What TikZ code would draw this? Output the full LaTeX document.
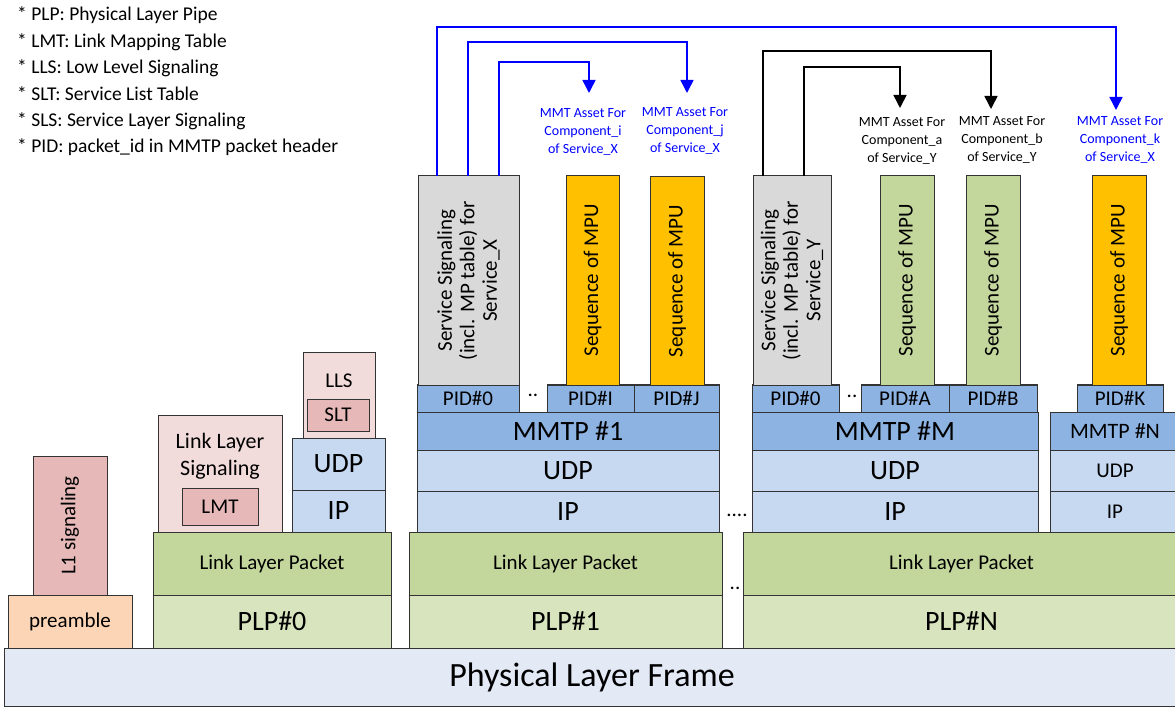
\documentclass[tikz,border=0pt]{standalone}
\usepackage{fontspec}
\setmainfont{Carlito}
\usetikzlibrary{arrows.meta}
\definecolor{frameC}{HTML}{E3EAF6}
\definecolor{preC}{HTML}{FBD5B5}
\definecolor{roseC}{HTML}{E6B9B8}
\definecolor{pinkC}{HTML}{F2DCDB}
\definecolor{llpC}{HTML}{C3D69B}
\definecolor{plpC}{HTML}{D7E4BD}
\definecolor{lbC}{HTML}{C6D9F1}
\definecolor{mbC}{HTML}{8DB3E2}
\definecolor{greyC}{HTML}{D9D9D9}
\definecolor{orC}{HTML}{FFC000}
\definecolor{arrBlue}{HTML}{0000FF}
\newcommand\bx[7]{\node[box,#6,minimum width={(#4)-(#2)},minimum height={(#5)-(#3)}] (#1) at ({((#2)+(#4))/2},{((#3)+(#5))/2}) {#7};}
\tikzset{
  box/.style={draw=black!80,line width=1pt,inner sep=0pt,outer sep=0pt,align=center},
  fbig/.style={font=\fontsize{28}{33}\selectfont},
  fmid/.style={font=\fontsize{21}{25}\selectfont},
  fsmall/.style={font=\fontsize{21}{25}\selectfont},
  rottxt/.style={rotate=90,align=center,inner sep=0pt,font=\fontsize{21}{22.5}\selectfont},
  asset/.style={align=center,inner sep=0pt,font=\fontsize{14}{18}\selectfont},
  legend/.style={anchor=base west,inner sep=0pt,font=\fontsize{19.5}{24}\selectfont},
  dotsn/.style={inner sep=0pt,font=\fontsize{21}{25}\selectfont},
  arrB/.style={draw=arrBlue,line width=1.6pt,-{Triangle[width=13pt,length=13pt]}},
  arrK/.style={draw=black,line width=1.6pt,-{Triangle[width=13pt,length=13pt]}},
}
\begin{document}
\begin{tikzpicture}[x=1pt,y=-1pt]
\useasboundingbox (0,0) rectangle (1175,708);
% legend
\node[legend] (leg1) at (17,21) {* PLP: Physical Layer Pipe};
\node[legend] (leg2) at (17,47.4) {* LMT: Link Mapping Table};
\node[legend] (leg3) at (17,73.8) {* LLS: Low Level Signaling};
\node[legend] (leg4) at (17,100.2) {* SLT: Service List Table};
\node[legend] (leg5) at (17,126.6) {* SLS: Service Layer Signaling};
\node[legend] (leg6) at (17,153) {* PID: packet\_id in MMTP packet header};
% physical layer frame
\bx{plf}{4}{648}{1180}{706}{fill=frameC,font=\fontsize{34}{40}\selectfont}{Physical Layer Frame}
% preamble / L1
\bx{pre}{8}{595}{132}{648}{fill=preC,fmid}{preamble}
\bx{l1}{33}{456}{107}{595}{fill=roseC}{}
\node[rottxt] (l1t) at (l1.center) {L1 signaling};
% PLP#0 stack
\bx{plp0}{153}{595}{391}{648}{fill=plpC,fbig}{PLP\#0}
\bx{llp0}{153}{532}{391}{595}{fill=llpC,fsmall}{Link Layer Packet}
\bx{lls0}{158}{415}{282}{532}{fill=pinkC}{}
\node[align=center,inner sep=0pt,font=\fontsize{22}{27}\selectfont] (lls0t) at (220,456) {Link Layer\\Signaling};
\bx{lmt}{182}{488}{258}{525}{fill=roseC,fmid}{LMT}
\bx{ip0}{292}{490}{385}{532}{fill=lbC,fbig}{IP}
\bx{udp0}{292}{438}{385}{490}{fill=lbC,fbig}{UDP}
\bx{llsb}{303}{353}{375}{438}{fill=pinkC}{}
\node[fmid,inner sep=0pt] (llst) at (339,381) {LLS};
\bx{slt}{307}{399}{369}{431}{fill=roseC,fmid}{SLT}
% PLP#1 stack
\bx{plp1}{409}{595}{722}{648}{fill=plpC,fbig}{PLP\#1}
\bx{llp1}{409}{532}{722}{595}{fill=llpC,fsmall}{Link Layer Packet}
\bx{ip1}{417}{491}{719}{532}{fill=lbC,fbig}{IP}
\bx{udp1}{417}{450}{719}{491}{fill=lbC,fbig}{UDP}
\bx{mmtp1}{417}{412}{719}{450}{fill=mbC,fbig}{MMTP \#1}
\bx{pidx0}{417}{385}{519}{412}{fill=mbC,fmid}{PID\#0}
\bx{pidi}{547}{385}{634}{412}{fill=mbC,fmid}{PID\#I}
\bx{pidj}{634}{385}{719}{412}{fill=mbC,fmid}{PID\#J}
\bx{ssx}{418}{176}{519}{385}{fill=greyC}{}
\node[rottxt] (ssxt) at (ssx.center) {Service Signaling\\(incl. MP table) for\\Service\_X};
\bx{mpui}{566}{176}{619}{385}{fill=orC}{}
\node[rottxt] (mpuit) at (mpui.center) {Sequence of MPU};
\bx{mpuj}{650}{177}{704}{385}{fill=orC}{}
\node[rottxt] (mpujt) at (mpuj.center) {Sequence of MPU};
\node[dotsn] (d1) at (533,395) {..};
\node[dotsn] (d2) at (737,515) {....};
\node[dotsn] (d3) at (735,588) {..};
% PLP#N stack
\bx{plpn}{743}{595}{1180}{648}{fill=plpC,fbig}{PLP\#N}
\bx{llpn}{743}{532}{1180}{595}{fill=llpC,fsmall}{Link Layer Packet}
\bx{ipm}{752}{491}{1038}{532}{fill=lbC,fbig}{IP}
\bx{udpm}{752}{450}{1038}{491}{fill=lbC,fbig}{UDP}
\bx{mmtpm}{752}{412}{1038}{450}{fill=mbC,fbig}{MMTP \#M}
\bx{pidy0}{752}{385}{839}{412}{fill=mbC,fmid}{PID\#0}
\bx{pida}{861}{385}{949}{412}{fill=mbC,fmid}{PID\#A}
\bx{pidb}{949}{385}{1037}{412}{fill=mbC,fmid}{PID\#B}
\node[dotsn] (d4) at (852,396) {..};
\bx{ssy}{753}{176}{831}{385}{fill=greyC}{}
\node[rottxt] (ssyt) at (ssy.center) {Service Signaling\\(incl. MP table) for\\Service\_Y};
\bx{mpua}{880}{176}{934}{385}{fill=llpC}{}
\node[rottxt] (mpuat) at (mpua.center) {Sequence of MPU};
\bx{mpub}{966}{176}{1020}{385}{fill=llpC}{}
\node[rottxt] (mpubt) at (mpub.center) {Sequence of MPU};
\bx{ipn}{1050}{491}{1180}{532}{fill=lbC,fmid}{IP}
\bx{udpn}{1050}{450}{1180}{491}{fill=lbC,fmid}{UDP}
\bx{mmtpn}{1050}{412}{1180}{450}{fill=mbC,font=\fontsize{22}{26}\selectfont}{MMTP \#N}
\bx{pidk}{1077}{385}{1163}{412}{fill=mbC,fmid}{PID\#K}
\bx{mpuk}{1092}{176}{1146}{385}{fill=orC}{}
\node[rottxt] (mpukt) at (mpuk.center) {Sequence of MPU};
% asset labels
\node[asset,text=arrBlue] (labi) at (583,132) {MMT Asset For\\Component\_i\\of Service\_X};
\node[asset,text=arrBlue] (labj) at (685,131) {MMT Asset For\\Component\_j\\of Service\_X};
\node[asset] (laba) at (902,141) {MMT Asset For\\Component\_a\\of Service\_Y};
\node[asset] (labb) at (1002,140) {MMT Asset For\\Component\_b\\of Service\_Y};
\node[asset,text=arrBlue] (labk) at (1120,140) {MMT Asset For\\Component\_k\\of Service\_X};
% arrow corners and tips
\coordinate (k1) at (1116,27);  \coordinate (t1) at (1116,110);
\coordinate (k2) at (687,42);   \coordinate (t2) at (687,93);
\coordinate (k3) at (589,62);   \coordinate (t3) at (589,93);
\coordinate (k4) at (991,51);   \coordinate (t4) at (991,109);
\coordinate (k5) at (900,67);   \coordinate (t5) at (900,108);
\draw[arrB] ([xshift=19pt]ssx.north west) |- (k1) -- (t1);
\draw[arrB] ([xshift=50pt]ssx.north west) |- (k2) -- (t2);
\draw[arrB] ([xshift=81pt]ssx.north west) |- (k3) -- (t3);
\draw[arrK] ([xshift=10pt]ssy.north west) |- (k4) -- (t4);
\draw[arrK] ([xshift=51pt]ssy.north west) |- (k5) -- (t5);
\end{tikzpicture}
\end{document}
